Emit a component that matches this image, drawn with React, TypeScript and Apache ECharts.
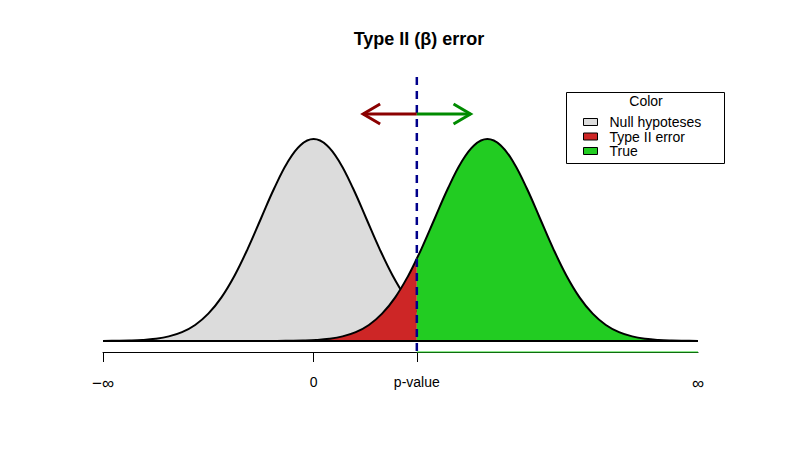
import React, { useEffect, useRef } from "react";
import * as echarts from "echarts";

// ---- data ----
// standard-normal-shaped curve: offsets from the mean and their densities
const curveOffsets = [-4, -3.75, -3.5, -3.25, -3, -2.75, -2.5, -2.25, -2, -1.75, -1.5, -1.25, -1, -0.75, -0.5, -0.25, 0,
  0.25, 0.5, 0.75, 1, 1.25, 1.5, 1.75, 2, 2.25, 2.5, 2.75, 3, 3.25, 3.5, 3.75, 4];
const curveDensity = [0.0001, 0.0004, 0.0009, 0.002, 0.0044, 0.0091, 0.0175, 0.0317, 0.054, 0.0863, 0.1295, 0.1826, 0.242,
  0.3011, 0.3521, 0.3867, 0.3989, 0.3867, 0.3521, 0.3011, 0.242, 0.1826, 0.1295, 0.0863, 0.054, 0.0317, 0.0175, 0.0091,
  0.0044, 0.002, 0.0009, 0.0004, 0.0001];
const nullMean = 0;
const trueMean = 3.3;
const pValue = 1.96;
const trueDensityAtP = 0.163;
const xRange = [-4, 7.3];
const yRange = [-0.0217, 0.5214];
const tickValues = [-4, 0, 1.96];
const labelValues = [-4, 0, 1.96, 7.3];
const labelTexts = ["{inf|\u2212\u221e}", "0", "p-value", "{inf|\u221e}"];
const legendNames = ["Null hypoteses", "Type II error", "True"];
const arrowY = 0.4483;
const arrowEnds = [0.94, 2.98];

const GRAY = "#DCDCDC";
const RED = "#CD2626";
const GREEN = "#22CC22";
const FONT = "Liberation Sans, Arial, sans-serif";

export default function App() {
  const ref = useRef<HTMLDivElement>(null);
  useEffect(() => {
    if (!ref.current) return;
    const chart = echarts.init(ref.current, null, { renderer: "svg" });

    const nullData = curveOffsets.map((z, i) => [nullMean + z, curveDensity[i]]);
    const trueAll = curveOffsets.map((z, i) => [trueMean + z, curveDensity[i]]);
    const redData = trueAll.filter((p) => p[0] < pValue).concat([[pValue, trueDensityAtP]]);
    const greenData = [[pValue, trueDensityAtP]].concat(trueAll.filter((p) => p[0] > pValue));

    const curveLine = { color: "#000", width: 2 };

    chart.setOption({
      animation: false,
      title: {
        text: "Type II (\u03b2) error",
        left: 406,
        top: 17,
        textAlign: "center",
        textStyle: { fontFamily: FONT, fontSize: 18, fontWeight: "bold", color: "#000" },
      },
      grid: { left: 95, right: 110, top: 69, bottom: 106 },
      xAxis: {
        type: "value",
        min: xRange[0],
        max: xRange[1],
        splitLine: { show: false },
        axisLine: { show: true, onZero: false, lineStyle: { color: "#000", width: 1 } },
        axisTick: { show: true, length: 10, customValues: tickValues, lineStyle: { color: "#000", width: 1 } },
        axisLabel: {
          customValues: labelValues,
          margin: 23,
          fontFamily: FONT,
          fontSize: 14,
          color: "#000",
          rich: { inf: { fontFamily: FONT, fontSize: 17, color: "#000" } },
          formatter: (v: number) => {
            const i = labelValues.findIndex((lv) => Math.abs(lv - v) < 1e-6);
            return i >= 0 ? labelTexts[i] : "";
          },
        },
      },
      yAxis: { type: "value", min: yRange[0], max: yRange[1], show: false, splitLine: { show: false } },
      legend: {
        orient: "vertical",
        left: 575,
        top: 107,
        icon: "rect",
        itemWidth: 14,
        itemHeight: 7,
        itemGap: 0.5,
        padding: 0,
        textStyle: { fontFamily: FONT, fontSize: 14, color: "#000", lineHeight: 14, padding: [0, 0, 0, 7] },
        data: [
          { name: legendNames[0], itemStyle: { color: GRAY, borderColor: "#000", borderWidth: 1 } },
          { name: legendNames[1], itemStyle: { color: RED, borderColor: "#000", borderWidth: 1 } },
          { name: legendNames[2], itemStyle: { color: GREEN, borderColor: "#000", borderWidth: 1 } },
        ],
      },
      graphic: [
        {
          type: "rect",
          shape: { x: 558.5, y: 84.5, width: 158, height: 71 },
          style: { fill: "#fff", stroke: "#000", lineWidth: 1 },
          z: -1,
        },
        {
          type: "text",
          x: 638,
          y: 93,
          style: { text: "Color", fontFamily: FONT, fontSize: 14, fill: "#000", textAlign: "center", textVerticalAlign: "middle" },
        },
      ],
      series: [
        {
          name: legendNames[0],
          type: "line",
          data: nullData,
          smooth: 0.4,
          showSymbol: false,
          symbol: "none",
          lineStyle: curveLine,
          itemStyle: { color: GRAY },
          areaStyle: { color: GRAY, opacity: 1, origin: 0 },
          z: 2,
        },
        {
          name: legendNames[1],
          type: "line",
          data: redData,
          smooth: 0.4,
          showSymbol: false,
          symbol: "none",
          lineStyle: curveLine,
          itemStyle: { color: RED },
          areaStyle: { color: RED, opacity: 1, origin: 0 },
          z: 3,
        },
        {
          name: legendNames[2],
          type: "line",
          data: greenData,
          smooth: 0.4,
          showSymbol: false,
          symbol: "none",
          lineStyle: curveLine,
          itemStyle: { color: GREEN },
          areaStyle: { color: GREEN, opacity: 1, origin: 0 },
          z: 3,
        },
        {
          name: "baseline",
          type: "line",
          data: [[xRange[0], 0], [xRange[1], 0]],
          showSymbol: false,
          symbol: "none",
          lineStyle: { color: "#000", width: 2 },
          z: 4,
          silent: true,
        },
        {
          name: "axisTrue",
          type: "line",
          data: [[pValue, yRange[0]], [xRange[1], yRange[0]]],
          showSymbol: false,
          symbol: "none",
          clip: false,
          lineStyle: { color: "#1ED81E", width: 1.2 },
          z: 4,
          silent: true,
        },
        {
          name: "pLine",
          type: "line",
          data: [[pValue, yRange[1]], [pValue, yRange[0]]],
          showSymbol: false,
          symbol: "none",
          clip: false,
          lineStyle: { color: "#00008B", width: 2.5, type: [8, 6] },
          z: 5,
          silent: true,
        },
        {
          name: "arrows",
          type: "custom",
          clip: false,
          silent: true,
          z: 6,
          encode: { x: [0, 1], y: 2 },
          data: [
            [pValue, arrowEnds[0], arrowY],
            [pValue, arrowEnds[1], arrowY],
          ],
          renderItem: (params: any, api: any) => {
            const p0 = api.coord([api.value(0), api.value(2)]);
            const p1 = api.coord([api.value(1), api.value(2)]);
            const dir = p1[0] > p0[0] ? 1 : -1;
            const color = dir < 0 ? "#8B0000" : "#008B00";
            const style = { stroke: color, lineWidth: 3, fill: "none" };
            return {
              type: "group",
              children: [
                { type: "line", shape: { x1: p0[0], y1: p0[1], x2: p1[0], y2: p1[1] }, style },
                {
                  type: "polyline",
                  shape: {
                    points: [
                      [p1[0] - dir * 17, p1[1] - 10],
                      [p1[0], p1[1]],
                      [p1[0] - dir * 17, p1[1] + 10],
                    ],
                  },
                  style,
                },
              ],
            };
          },
        },
      ],
    });
    return () => chart.dispose();
  }, []);
  return <div ref={ref} style={{ width: 800, height: 450 }} />;
}
